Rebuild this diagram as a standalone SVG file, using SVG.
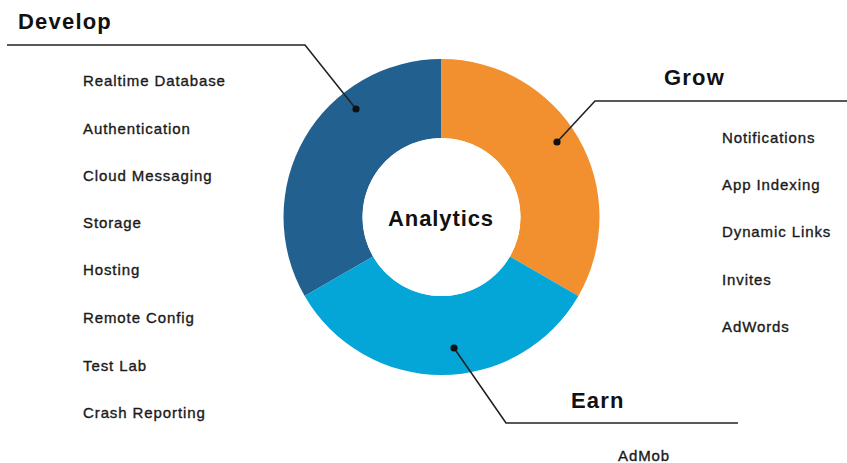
<svg xmlns="http://www.w3.org/2000/svg" width="847" height="463" viewBox="0 0 847 463">
<style>
.h{font-family:"Liberation Sans",Arial,sans-serif;font-weight:bold;font-size:22px;fill:#111;letter-spacing:1.2px}
.t{font-family:"Liberation Sans",Arial,sans-serif;font-size:15px;fill:#1a1a1a;stroke:#1a1a1a;stroke-width:0.35;letter-spacing:0.9px}
.ln{fill:none;stroke:#222;stroke-width:1.6}
.dot{fill:#111}
</style>
<rect width="847" height="463" fill="#fff"/>
<g id="develop">
<path d="M304.67,296 A158,158 0 0 1 441.5,59 L441.5,138 A79,79 0 0 0 373.08,256.5 Z" fill="#22608F"/>
<text class="h" x="18" y="29">Develop</text>
<text class="t" x="83" y="86">Realtime Database</text>
<text class="t" x="83" y="134">Authentication</text>
<text class="t" x="83" y="181">Cloud Messaging</text>
<text class="t" x="83" y="228">Storage</text>
<text class="t" x="83" y="275">Hosting</text>
<text class="t" x="83" y="323">Remote Config</text>
<text class="t" x="83" y="371">Test Lab</text>
<text class="t" x="83" y="418">Crash Reporting</text>
</g>
<g id="grow">
<path d="M441.5,59 A158,158 0 0 1 578.33,296 L509.92,256.5 A79,79 0 0 0 441.5,138 Z" fill="#F28F2F"/>
<text class="h" x="664" y="85">Grow</text>
<text class="t" x="722" y="143">Notifications</text>
<text class="t" x="722" y="190">App Indexing</text>
<text class="t" x="722" y="237">Dynamic Links</text>
<text class="t" x="722" y="285">Invites</text>
<text class="t" x="722" y="332">AdWords</text>
</g>
<g id="earn">
<path d="M578.33,296 A158,158 0 0 1 304.67,296 L373.08,256.5 A79,79 0 0 0 509.92,256.5 Z" fill="#04A5D7"/>
<text class="h" x="571" y="408">Earn</text>
<text class="t" x="618" y="461">AdMob</text>
</g>
<g id="analytics">
<circle cx="441.5" cy="217" r="79" fill="#fff"/>
<text class="h" x="441" y="226" text-anchor="middle" style="letter-spacing:0.9px">Analytics</text>
</g>
<g id="connectors">
<polyline class="ln" points="7,45 305,45 356,109"/>
<circle class="dot" cx="356" cy="109" r="3.6"/>
<polyline class="ln" points="847,101 595,101 557,142"/>
<circle class="dot" cx="557" cy="142" r="3.6"/>
<polyline class="ln" points="738,423 506,423 454,348"/>
<circle class="dot" cx="454" cy="348" r="3.6"/>
</g>
</svg>
